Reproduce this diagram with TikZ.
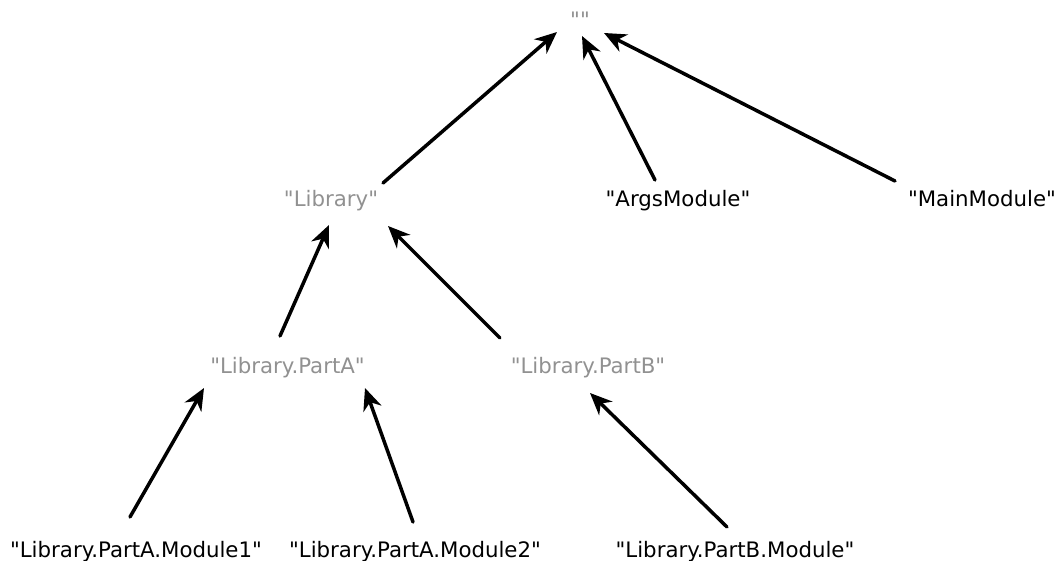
\documentclass[tikz,border=0pt]{standalone}
\usepackage{fontspec}
\newfontfamily\lblfont{DejaVu Sans}
\usetikzlibrary{arrows.meta,calc}
\definecolor{grayt}{RGB}{145,145,145}
\tikzset{
  lbl/.style={anchor=base,inner sep=0pt,font=\lblfont\fontsize{21.3}{25}\selectfont},
  virt/.style={lbl,text=grayt},
  real/.style={lbl,text=black},
  arr/.style={-{Stealth[length=22pt,width=19pt,inset=7pt]},line width=3.5pt,line cap=round}
}
\begin{document}
\begin{tikzpicture}[x=1pt,y=-1pt]
\useasboundingbox (0,0) rectangle (1062,561);
\node[virt] (root) at (580,28) {""};
\node[virt] (lib) at (331,207) {"Library"};
\node[real] (args) at (678,207) {"ArgsModule"};
\node[real] (main) at (982,207) {"MainModule"};
\node[virt] (pa) at (287.5,373) {"Library.PartA"};
\node[virt] (pb) at (588,373) {"Library.PartB"};
\node[real] (m1) at (136,557) {"Library.PartA.Module1"};
\node[real] (m2) at (415,557) {"Library.PartA.Module2"};
\node[real] (pbm) at (735,557) {"Library.PartB.Module"};
\draw[arr] ($(lib.base)+(52,-24)$) -- ($(root.base)+(-23,4)$);
\draw[arr] ($(args.base)+(-23,-27)$) -- ($(root.base)+(2,8)$);
\draw[arr] ($(main.base)+(-87,-26)$) -- ($(root.base)+(24,5)$);
\draw[arr] ($(pa.base)+(-7.5,-37)$) -- ($(lib.base)+(-2,18)$);
\draw[arr] ($(pb.base)+(-88,-35)$) -- ($(lib.base)+(57,19)$);
\draw[arr] ($(m1.base)+(-6,-40)$) -- ($(pa.base)+(-83.5,15)$);
\draw[arr] ($(m2.base)+(-2,-35)$) -- ($(pa.base)+(77.5,15)$);
\draw[arr] ($(pbm.base)+(-8,-30)$) -- ($(pb.base)+(2,20)$);
\end{tikzpicture}
\end{document}
